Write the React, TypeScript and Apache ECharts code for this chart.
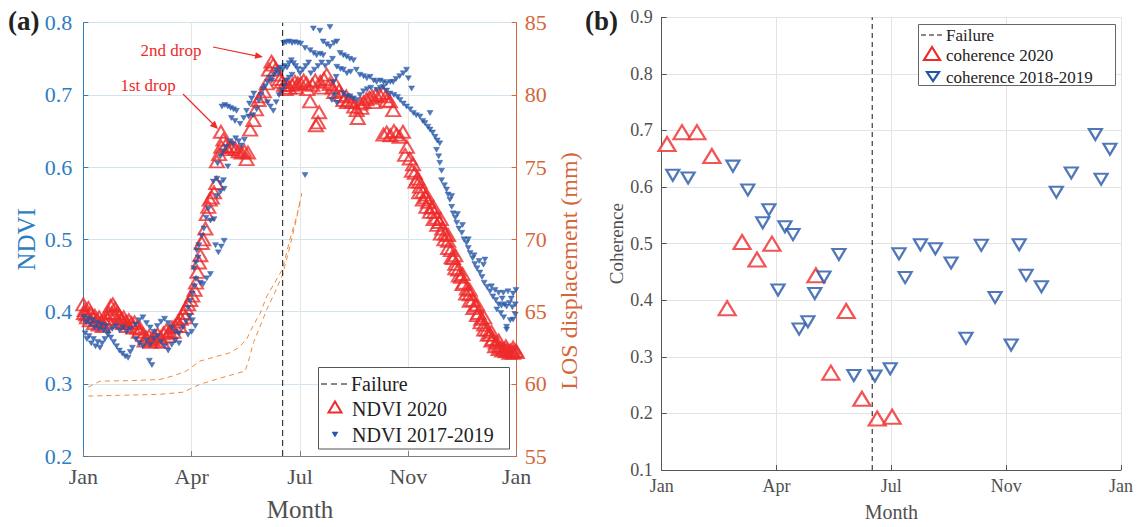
import React, { useEffect, useRef } from "react";
import * as echarts from "echarts";

// ---------- data ----------
const monthTicks = ["Jan", "Apr", "Jul", "Nov", "Jan"];
const failureMonthA = 5.52;
const failureMonthB = 5.5;

// NDVI 2020 (month, NDVI)
const ndvi2020: number[][] = [
  [0.0, 0.41], [0.04, 0.402], [0.08, 0.396], [0.14, 0.405], [0.2, 0.398], [0.26, 0.392], [0.32, 0.394], [0.38, 0.388],
  [0.44, 0.392], [0.5, 0.386], [0.56, 0.39], [0.62, 0.385], [0.7, 0.398], [0.76, 0.408], [0.82, 0.41], [0.88, 0.404],
  [0.94, 0.398], [1.0, 0.394], [1.06, 0.39], [1.12, 0.392], [1.18, 0.386], [1.26, 0.388], [1.34, 0.384], [1.42, 0.385],
  [1.5, 0.378], [1.58, 0.376], [1.66, 0.368], [1.74, 0.364], [1.82, 0.366], [1.9, 0.362], [1.98, 0.366], [2.06, 0.368],
  [2.14, 0.364], [2.22, 0.37], [2.3, 0.374], [2.38, 0.372], [2.46, 0.378], [2.54, 0.38], [2.62, 0.386], [2.7, 0.39],
  [2.78, 0.398], [2.84, 0.405], [2.9, 0.41], [2.96, 0.416], [3.02, 0.422], [3.08, 0.43], [3.12, 0.44], [3.16, 0.455],
  [3.2, 0.468], [3.24, 0.478], [3.28, 0.495], [3.32, 0.5], [3.38, 0.515], [3.42, 0.535], [3.46, 0.545], [3.5, 0.555],
  [3.56, 0.558], [3.62, 0.565], [3.68, 0.578], [3.7, 0.608], [3.76, 0.618], [3.82, 0.628], [3.81, 0.649], [3.88, 0.638],
  [3.94, 0.63], [4.0, 0.625], [4.08, 0.628], [4.14, 0.628], [4.22, 0.625], [4.3, 0.622], [4.38, 0.62], [4.46, 0.622],
  [4.52, 0.611], [4.56, 0.62], [4.62, 0.652], [4.71, 0.665], [4.78, 0.68], [4.85, 0.693], [4.92, 0.698], [5.0, 0.705],
  [5.08, 0.716], [5.14, 0.735], [5.21, 0.746], [5.26, 0.742], [5.32, 0.735], [5.38, 0.728], [5.44, 0.722], [5.5, 0.718],
  [5.56, 0.714], [5.63, 0.714], [5.7, 0.71], [5.78, 0.714], [5.86, 0.718], [5.94, 0.716], [6.02, 0.716], [6.1, 0.72],
  [6.18, 0.716], [6.28, 0.691], [6.34, 0.714], [6.44, 0.658], [6.53, 0.676], [6.5, 0.662], [6.42, 0.72], [6.56, 0.718],
  [6.66, 0.722], [6.74, 0.728], [6.82, 0.715], [6.9, 0.71], [7.0, 0.714], [7.08, 0.706], [7.14, 0.7], [7.2, 0.693],
  [7.28, 0.698], [7.36, 0.692], [7.44, 0.69], [7.5, 0.684], [7.57, 0.679], [7.6, 0.668], [7.68, 0.688], [7.76, 0.69],
  [7.84, 0.694], [7.92, 0.696], [8.0, 0.698], [8.1, 0.7], [8.21, 0.7], [8.3, 0.703], [8.38, 0.698], [8.49, 0.691],
  [8.58, 0.679], [8.31, 0.645], [8.4, 0.648], [8.5, 0.644], [8.6, 0.65], [8.68, 0.645], [8.76, 0.642], [8.85, 0.649],
  [8.91, 0.617], [8.96, 0.628], [9.04, 0.612], [9.13, 0.604], [9.18, 0.592], [9.25, 0.584], [9.32, 0.573], [9.4, 0.566],
  [9.48, 0.558], [9.55, 0.552], [9.64, 0.544], [9.72, 0.538], [9.78, 0.53], [9.86, 0.524], [9.94, 0.515], [10.02, 0.508],
  [10.1, 0.498], [10.18, 0.485], [10.24, 0.474], [10.3, 0.466], [10.38, 0.458], [10.46, 0.448], [10.54, 0.44], [10.62, 0.432],
  [10.7, 0.424], [10.78, 0.416], [10.86, 0.408], [10.94, 0.398], [11.02, 0.39], [11.1, 0.382], [11.18, 0.375], [11.26, 0.368],
  [11.34, 0.362], [11.42, 0.357], [11.5, 0.353], [11.58, 0.35], [11.66, 0.348], [11.74, 0.347], [11.82, 0.346], [11.9, 0.345],
  [11.98, 0.346], [9.1, 0.595], [9.3, 0.565], [9.5, 0.545], [9.7, 0.528], [9.9, 0.508], [10.1, 0.488], [10.3, 0.46],
  [10.5, 0.438], [10.7, 0.415], [10.9, 0.395], [11.1, 0.375], [11.3, 0.36], [11.5, 0.348], [11.7, 0.345], [11.9, 0.343],
  [0.02, 0.398], [0.1, 0.392], [0.18, 0.388], [0.3, 0.384], [0.42, 0.382], [0.54, 0.38], [0.66, 0.39], [0.78, 0.398],
  [0.86, 0.396], [0.98, 0.386], [1.1, 0.384], [1.22, 0.38], [1.38, 0.378], [1.54, 0.372], [1.7, 0.36], [1.86, 0.358],
  [2.02, 0.36], [2.18, 0.358], [2.34, 0.366], [2.5, 0.372], [2.66, 0.38], [2.82, 0.392],
  [5.6, 0.708], [5.9, 0.71], [6.2, 0.708], [6.6, 0.71], [6.95, 0.704], [7.3, 0.69], [7.7, 0.682], [8.05, 0.69], [8.4, 0.692],
  [9.2, 0.58], [9.4, 0.555], [9.6, 0.538], [9.8, 0.52], [10.0, 0.5], [10.2, 0.475], [10.4, 0.45], [10.6, 0.425],
  [10.8, 0.405], [11.0, 0.385], [11.2, 0.368], [11.4, 0.352], [11.6, 0.346], [11.8, 0.343], [12.0, 0.344],
  [9.3, 0.58], [9.5, 0.562], [9.7, 0.545], [9.9, 0.528], [10.1, 0.506], [10.3, 0.478], [10.5, 0.452], [10.7, 0.43],
  [10.9, 0.41], [11.1, 0.392], [11.3, 0.372], [11.5, 0.36], [11.7, 0.352], [11.9, 0.35],
];

// NDVI 2017-2019 (month, NDVI)
const ndvi2017to2019: number[][] = [
  [0.02, 0.392], [0.08, 0.385], [0.14, 0.39], [0.2, 0.382], [0.26, 0.388], [0.32, 0.378], [0.38, 0.384], [0.44, 0.376],
  [0.5, 0.382], [0.56, 0.374], [0.62, 0.38], [0.68, 0.372],
  [0.05, 0.37], [0.1, 0.362], [0.16, 0.366], [0.22, 0.356], [0.28, 0.362], [0.34, 0.352], [0.4, 0.358], [0.46, 0.35],
  [0.52, 0.356], [0.6, 0.362], [0.68, 0.368], [0.76, 0.364], [0.84, 0.358], [0.92, 0.352], [1.0, 0.346], [1.08, 0.342],
  [1.16, 0.338], [1.24, 0.336], [1.3, 0.344], [1.36, 0.35],
  [0.8, 0.376], [0.9, 0.38], [1.0, 0.374], [1.1, 0.378], [1.2, 0.372], [1.3, 0.376], [1.45, 0.382], [1.55, 0.388],
  [1.65, 0.392], [1.75, 0.384], [1.85, 0.378], [1.95, 0.372],
  [1.45, 0.362], [1.55, 0.356], [1.65, 0.352], [1.75, 0.36], [1.85, 0.354], [1.95, 0.362], [2.05, 0.366], [2.15, 0.358],
  [2.25, 0.352], [2.35, 0.346], [2.45, 0.354], [2.55, 0.36], [2.65, 0.356],
  [1.83, 0.332], [1.9, 0.326],
  [2.05, 0.38], [2.15, 0.386], [2.25, 0.39], [2.35, 0.384], [2.45, 0.378], [2.55, 0.372], [2.65, 0.37], [2.75, 0.378],
  [2.85, 0.386], [2.95, 0.394], [3.02, 0.388], [3.1, 0.38], [2.9, 0.368], [3.0, 0.372],
  [2.9, 0.405], [2.96, 0.415], [3.02, 0.425], [3.08, 0.435], [3.12, 0.445], [3.06, 0.46], [3.12, 0.468], [3.18, 0.475],
  [3.24, 0.44], [3.32, 0.438], [3.42, 0.446], [3.52, 0.452], [3.14, 0.485], [3.2, 0.492], [3.28, 0.505], [3.34, 0.515],
  [3.66, 0.492], [3.74, 0.482], [3.82, 0.49], [3.9, 0.498], [3.4, 0.53], [3.46, 0.542], [3.52, 0.526], [3.62, 0.528],
  [3.7, 0.56], [3.8, 0.566], [3.9, 0.57], [3.6, 0.58], [3.7, 0.584], [3.8, 0.578], [3.88, 0.582],
  [3.72, 0.605], [3.8, 0.615], [3.88, 0.622], [3.96, 0.628], [4.0, 0.601], [4.06, 0.636], [4.14, 0.632], [4.22, 0.64],
  [4.3, 0.636], [4.38, 0.63], [4.46, 0.638], [3.84, 0.684], [3.92, 0.686], [4.0, 0.684], [4.08, 0.682], [4.16, 0.68],
  [4.24, 0.678], [4.1, 0.668], [4.2, 0.664], [4.34, 0.66], [4.44, 0.668], [4.52, 0.678], [4.6, 0.688], [4.66, 0.695],
  [4.72, 0.702], [4.58, 0.67], [4.7, 0.672], [4.8, 0.68], [4.86, 0.692], [4.92, 0.7], [4.98, 0.708],
  [5.04, 0.712], [5.1, 0.718], [5.16, 0.724], [5.22, 0.72], [5.28, 0.728], [5.34, 0.734], [5.4, 0.73], [5.46, 0.738],
  [5.52, 0.735], [5.58, 0.74], [5.64, 0.738], [5.7, 0.744], [5.76, 0.748], [5.82, 0.744], [5.88, 0.74], [5.94, 0.736],
  [5.1, 0.69], [5.18, 0.684], [5.26, 0.678], [5.34, 0.69], [5.42, 0.7], [5.5, 0.706], [5.56, 0.712], [5.62, 0.72],
  [5.7, 0.724], [5.78, 0.728],
  [5.55, 0.772], [5.62, 0.773], [5.7, 0.774], [5.78, 0.772], [5.86, 0.773], [5.94, 0.772], [6.02, 0.771],
  [6.14, 0.589],
  [6.0, 0.73], [6.08, 0.735], [6.16, 0.74], [6.24, 0.745], [6.14, 0.765], [6.28, 0.762], [6.38, 0.758], [6.46, 0.755],
  [6.56, 0.757], [6.64, 0.755], [6.37, 0.792], [6.55, 0.789], [6.83, 0.794], [6.64, 0.774], [6.74, 0.77], [6.83, 0.767],
  [6.94, 0.772], [7.02, 0.774], [6.3, 0.73], [6.4, 0.735], [6.5, 0.74], [6.6, 0.745], [6.7, 0.74], [6.8, 0.745],
  [6.9, 0.75], [6.88, 0.693], [6.96, 0.7], [7.02, 0.689], [6.92, 0.718], [7.0, 0.725],
  [7.11, 0.758], [7.2, 0.755], [7.29, 0.753], [7.38, 0.75], [7.48, 0.748], [7.02, 0.739], [7.12, 0.736], [7.2, 0.735],
  [7.3, 0.73], [7.4, 0.732], [7.2, 0.702], [7.3, 0.698], [7.38, 0.698], [7.48, 0.695], [7.57, 0.693], [7.56, 0.735],
  [7.66, 0.728], [7.76, 0.726], [7.85, 0.723], [7.94, 0.725], [7.66, 0.7], [7.76, 0.705], [7.86, 0.708], [7.96, 0.71],
  [8.04, 0.72], [8.12, 0.718], [8.22, 0.72], [8.31, 0.718], [8.4, 0.716], [8.5, 0.718], [8.58, 0.718], [8.66, 0.722],
  [8.76, 0.726], [8.86, 0.73], [8.95, 0.735], [9.0, 0.723], [9.09, 0.709], [8.12, 0.707], [8.22, 0.71], [8.31, 0.711],
  [8.4, 0.706], [8.49, 0.702], [8.6, 0.7], [8.7, 0.697], [8.77, 0.693], [8.86, 0.688], [8.95, 0.684],
  [9.05, 0.68], [9.14, 0.675], [9.22, 0.672], [9.32, 0.67], [9.4, 0.664], [9.46, 0.661], [9.6, 0.675], [9.54, 0.656],
  [9.6, 0.652], [9.67, 0.648], [9.74, 0.642], [9.8, 0.637], [9.87, 0.633], [9.78, 0.624], [9.84, 0.615], [9.87, 0.606],
  [9.92, 0.595], [9.92, 0.582], [10.0, 0.575], [10.06, 0.569], [10.1, 0.562], [10.15, 0.555], [10.2, 0.545], [10.24, 0.536],
  [10.3, 0.53], [10.34, 0.523], [10.4, 0.515], [10.48, 0.509], [10.54, 0.5], [10.61, 0.495], [10.66, 0.488], [10.71, 0.481],
  [10.78, 0.474], [10.84, 0.466], [10.9, 0.46], [10.98, 0.454], [11.04, 0.448],
  [10.2, 0.56], [10.36, 0.535], [10.5, 0.52], [10.66, 0.5], [10.82, 0.478], [10.96, 0.47], [11.08, 0.465], [11.12, 0.472],
  [11.1, 0.44], [11.18, 0.434], [11.26, 0.428], [11.34, 0.421], [11.42, 0.416], [11.5, 0.41], [11.58, 0.408], [11.66, 0.41],
  [11.72, 0.407], [11.8, 0.412], [11.88, 0.406], [11.96, 0.41], [11.3, 0.435], [11.4, 0.43], [11.5, 0.426], [11.63, 0.426],
  [11.76, 0.428], [11.9, 0.425], [11.98, 0.43], [11.45, 0.403], [11.56, 0.398], [11.64, 0.392], [11.72, 0.379], [11.72, 0.375],
  [11.82, 0.388], [11.9, 0.389], [11.96, 0.396], [11.6, 0.418], [11.85, 0.418],
];

// LOS displacement curves (month, mm)
const losUpper: number[][] = [
  [0.14, 59.77], [0.46, 60.18], [1.3, 60.22], [2.12, 60.3], [2.5, 60.55], [2.86, 60.9], [3.23, 61.57], [3.7, 61.9],
  [4.06, 62.15], [4.3, 62.5], [4.52, 63.08], [4.7, 64.0], [4.9, 64.9], [5.08, 66.06], [5.3, 67.0], [5.52, 67.95],
  [5.72, 70.0], [5.91, 71.6], [6.05, 73.2],
];
const losLower: number[][] = [
  [0.14, 59.15], [1.0, 59.2], [2.12, 59.27], [2.77, 59.42], [3.0, 59.7], [3.23, 59.96], [3.8, 60.4], [4.48, 60.88],
  [4.6, 61.8], [4.71, 62.85], [4.9, 64.0], [5.08, 65.14], [5.3, 66.3], [5.52, 67.56], [5.72, 69.5], [5.9, 71.4],
  [6.02, 72.8],
];

// Coherence (month, coherence)
const coh2020: number[][] = [
  [0.14, 0.676], [0.53, 0.697], [0.92, 0.697], [1.31, 0.655], [1.71, 0.386], [2.1, 0.503], [2.49, 0.472], [2.88, 0.5],
  [4.03, 0.444], [4.42, 0.272], [4.82, 0.381], [5.23, 0.226], [5.63, 0.191], [6.02, 0.194],
];
const coh2018to2019: number[][] = [
  [0.29, 0.621], [0.69, 0.616], [1.86, 0.637], [2.25, 0.595], [2.64, 0.537], [2.8, 0.56], [3.22, 0.53], [3.43, 0.516],
  [3.04, 0.418], [3.59, 0.349], [3.82, 0.362], [4.0, 0.412], [4.24, 0.441], [4.63, 0.481], [5.02, 0.267], [5.57, 0.266],
  [5.97, 0.279], [6.2, 0.482], [6.36, 0.44], [6.76, 0.498], [7.15, 0.491], [7.56, 0.466], [7.95, 0.333], [8.35, 0.497],
  [8.71, 0.405], [9.13, 0.321], [9.34, 0.498], [9.52, 0.444], [9.92, 0.424], [10.31, 0.591], [10.7, 0.625], [11.33, 0.693],
  [11.48, 0.614], [11.71, 0.667],
];

// ---------- styles ----------
const FONT = "'Liberation Serif', 'Times New Roman', serif";
const RED = "#EE2A2A";
const BLUE = "#2456A8";
const NDVI_COLOR = "#2E7EBF";
const LOS_COLOR = "#D4663A";
const DASH_ORANGE = "#F08A3C";
const GREY_TEXT = "#505050";
const TOP = 100;

function monthLabel(v: number) {
  return monthTicks[Math.round(v / 3)] ?? "";
}

function buildOption(): any {
  const xCommon = (gridIndex: number, fs: number, nameFs: number, gap: number, margin: number, lineColor: string, splitColor: string) => ({
    gridIndex,
    type: "value",
    min: 0,
    max: 12,
    interval: 3,
    axisLine: { show: true, onZero: false, lineStyle: { color: lineColor, width: 1 } },
    axisTick: { show: true, inside: true, length: 5, lineStyle: { color: lineColor } },
    axisLabel: { formatter: monthLabel, color: GREY_TEXT, fontSize: fs, fontFamily: FONT, margin },
    splitLine: { show: true, lineStyle: { color: splitColor, width: 1 } },
    name: "Month",
    nameLocation: "middle",
    nameGap: gap,
    nameTextStyle: { color: GREY_TEXT, fontSize: nameFs, fontFamily: FONT },
  });

  return {
    animation: false,
    backgroundColor: "#ffffff",
    grid: [
      { left: 83.3, top: 22.7, width: 433.4, height: 434 },
      { left: 661.7, top: 17.3, width: 459.3, height: 455.4 },
    ],
    xAxis: [
      xCommon(0, 22, 25, 41, 9, "#808080", "#e6e6e6"),
      xCommon(1, 18, 20, 32, 7, "#555555", "#e3e3e3"),
    ],
    yAxis: [
      {
        gridIndex: 0,
        type: "value",
        position: "left",
        min: 0.2,
        max: 0.8,
        interval: 0.1,
        axisLine: { show: true, lineStyle: { color: NDVI_COLOR } },
        axisTick: { show: true, inside: true, length: 5, lineStyle: { color: NDVI_COLOR } },
        axisLabel: { color: NDVI_COLOR, fontSize: 22, fontFamily: FONT, margin: 11, formatter: (v: number) => v.toFixed(1) },
        splitLine: { show: true, lineStyle: { color: "#d3e4f1" } },
        name: "NDVI",
        nameLocation: "middle",
        nameRotate: 90,
        nameGap: 44,
        nameTextStyle: { color: NDVI_COLOR, fontSize: 25, fontFamily: FONT },
      },
      {
        gridIndex: 0,
        type: "value",
        position: "right",
        min: 55,
        max: 85,
        interval: 5,
        axisLine: { show: true, lineStyle: { color: LOS_COLOR } },
        axisTick: { show: true, inside: true, length: 5, lineStyle: { color: LOS_COLOR } },
        axisLabel: { color: LOS_COLOR, fontSize: 22, fontFamily: FONT, margin: 8 },
        splitLine: { show: false },
      },
      {
        gridIndex: 1,
        type: "value",
        position: "left",
        min: 0.1,
        max: 0.9,
        interval: 0.1,
        axisLine: { show: true, lineStyle: { color: "#555555" } },
        axisTick: { show: true, inside: true, length: 5, lineStyle: { color: "#555555" } },
        axisLabel: { color: GREY_TEXT, fontSize: 18, fontFamily: FONT, margin: 9, formatter: (v: number) => v.toFixed(1) },
        splitLine: { show: true, lineStyle: { color: "#e3e3e3" } },
        name: "Coherence",
        nameLocation: "middle",
        nameRotate: 90,
        nameGap: 33,
        nameTextStyle: { color: GREY_TEXT, fontSize: 19, fontFamily: FONT },
      },
    ],
    series: [
      {
        name: "NDVI 2020",
        type: "scatter",
        xAxisIndex: 0,
        yAxisIndex: 0,
        data: ndvi2020,
        symbol: "triangle",
        symbolSize: [14, 12],
        itemStyle: { color: "rgba(255,255,255,0)", borderColor: RED, borderWidth: 2 },
        z: 3,
      },
      {
        name: "NDVI 2017-2019",
        type: "scatter",
        xAxisIndex: 0,
        yAxisIndex: 0,
        data: ndvi2017to2019,
        symbol: "triangle",
        symbolRotate: 180,
        symbolSize: [6, 5],
        itemStyle: { color: BLUE, borderColor: BLUE, borderWidth: 0.5 },
        z: 4,
      },
      {
        name: "LOS upper",
        type: "line",
        xAxisIndex: 0,
        yAxisIndex: 1,
        data: losUpper,
        symbol: "none",
        lineStyle: { color: DASH_ORANGE, width: 1, type: [5, 4] },
        z: 2,
      },
      {
        name: "LOS lower",
        type: "line",
        xAxisIndex: 0,
        yAxisIndex: 1,
        data: losLower,
        symbol: "none",
        lineStyle: { color: DASH_ORANGE, width: 1, type: [5, 4] },
        z: 2,
      },
      {
        name: "Failure",
        type: "line",
        xAxisIndex: 0,
        yAxisIndex: 0,
        data: [
          [failureMonthA, 0.2],
          [failureMonthA, 0.8],
        ],
        symbol: "none",
        lineStyle: { color: "#111111", width: 1, type: [6, 4] },
        z: 5,
      },
      {
        name: "coherence 2020",
        type: "scatter",
        xAxisIndex: 1,
        yAxisIndex: 2,
        data: coh2020,
        symbol: "triangle",
        symbolSize: [17, 14],
        itemStyle: { color: "#ffffff", borderColor: RED, borderWidth: 2.2 },
        z: 3,
      },
      {
        name: "coherence 2018-2019",
        type: "scatter",
        xAxisIndex: 1,
        yAxisIndex: 2,
        data: coh2018to2019,
        symbol: "triangle",
        symbolRotate: 180,
        symbolSize: [13, 11],
        itemStyle: { color: "#ffffff", borderColor: BLUE, borderWidth: 2.2 },
        z: 3,
      },
      {
        name: "Failure (b)",
        type: "line",
        xAxisIndex: 1,
        yAxisIndex: 2,
        data: [
          [failureMonthB, 0.1],
          [failureMonthB, 0.9],
        ],
        symbol: "none",
        lineStyle: { color: "#111111", width: 1, type: [5, 4] },
        z: 2,
      },
    ],
    graphic: [
      // panel labels
      { type: "text", left: 8, top: 7, z: TOP, style: { text: "(a)", font: `bold 27px ${FONT}`, fill: "#222222" } },
      { type: "text", left: 585, top: 7, z: TOP, style: { text: "(b)", font: `bold 27px ${FONT}`, fill: "#222222" } },
      // right-axis title of panel (a)
      {
        type: "text",
        x: 569,
        y: 271,
        rotation: Math.PI / 2,
        z: TOP,
        style: { text: "LOS displacement (mm)", font: `24px ${FONT}`, fill: LOS_COLOR, align: "center", verticalAlign: "middle" },
      },
      // annotations
      { type: "text", x: 171, y: 50, z: TOP, style: { text: "2nd drop", font: `17px ${FONT}`, fill: RED, align: "center", verticalAlign: "middle" } },
      { type: "line", z: TOP, shape: { x1: 213, y1: 47, x2: 257, y2: 56 }, style: { stroke: RED, lineWidth: 1.2 } },
      { type: "polygon", z: TOP, shape: { points: [[263, 57], [254.6, 58.8], [255.8, 52.3]] }, style: { fill: RED } },
      { type: "text", x: 148, y: 85, z: TOP, style: { text: "1st drop", font: `17px ${FONT}`, fill: RED, align: "center", verticalAlign: "middle" } },
      { type: "line", z: TOP, shape: { x1: 183, y1: 94, x2: 214, y2: 125 }, style: { stroke: RED, lineWidth: 1.2 } },
      { type: "polygon", z: TOP, shape: { points: [[218, 129], [209.8, 125.9], [214.9, 120.8]] }, style: { fill: RED } },
      // left legend
      { type: "rect", z: TOP, shape: { x: 318.5, y: 367.5, width: 191, height: 81.5 }, style: { fill: "#ffffff", stroke: "#555555", lineWidth: 1 } },
      { type: "line", z: TOP + 1, shape: { x1: 321, y1: 384, x2: 350, y2: 384 }, style: { stroke: "#111111", lineWidth: 1, lineDash: [6, 4] } },
      { type: "text", z: TOP + 1, x: 351, y: 384, style: { text: "Failure", font: `20px ${FONT}`, fill: "#222222", verticalAlign: "middle" } },
      { type: "polygon", z: TOP + 1, shape: { points: [[328.5, 412.5], [341.5, 412.5], [335, 401.5]] }, style: { fill: "none", stroke: RED, lineWidth: 2 } },
      { type: "text", z: TOP + 1, x: 352, y: 409, style: { text: "NDVI 2020", font: `20px ${FONT}`, fill: "#222222", verticalAlign: "middle" } },
      { type: "polygon", z: TOP + 1, shape: { points: [[332, 432], [338, 432], [335, 437]] }, style: { fill: BLUE, stroke: BLUE, lineWidth: 0.5 } },
      { type: "text", z: TOP + 1, x: 352, y: 435, style: { text: "NDVI 2017-2019", font: `20px ${FONT}`, fill: "#222222", verticalAlign: "middle" } },
      // right legend
      { type: "rect", z: TOP, shape: { x: 918.5, y: 24.5, width: 197, height: 61 }, style: { fill: "#ffffff", stroke: "#666666", lineWidth: 1 } },
      { type: "line", z: TOP + 1, shape: { x1: 921, y1: 35, x2: 945, y2: 35 }, style: { stroke: "#111111", lineWidth: 1, lineDash: [5, 3] } },
      { type: "text", z: TOP + 1, x: 946, y: 35, style: { text: "Failure", font: `17px ${FONT}`, fill: "#222222", verticalAlign: "middle" } },
      { type: "polygon", z: TOP + 1, shape: { points: [[924, 60], [940, 60], [932, 47]] }, style: { fill: "none", stroke: RED, lineWidth: 2.2 } },
      { type: "text", z: TOP + 1, x: 946, y: 55, style: { text: "coherence 2020", font: `17px ${FONT}`, fill: "#222222", verticalAlign: "middle" } },
      { type: "polygon", z: TOP + 1, shape: { points: [[927, 72], [939, 72], [933, 81]] }, style: { fill: "none", stroke: BLUE, lineWidth: 2.2 } },
      { type: "text", z: TOP + 1, x: 946, y: 77, style: { text: "coherence 2018-2019", font: `17px ${FONT}`, fill: "#222222", verticalAlign: "middle" } },
    ],
  };
}

export default function App() {
  const ref = useRef<HTMLDivElement | null>(null);
  useEffect(() => {
    if (!ref.current) return;
    const chart = echarts.init(ref.current, undefined, { renderer: "svg" });
    chart.setOption(buildOption());
    return () => {
      chart.dispose();
    };
  }, []);
  return (
    <div
      ref={ref}
      style={{ position: "absolute", left: 0, top: 0, width: 1139, height: 527, background: "#ffffff" }}
    />
  );
}
